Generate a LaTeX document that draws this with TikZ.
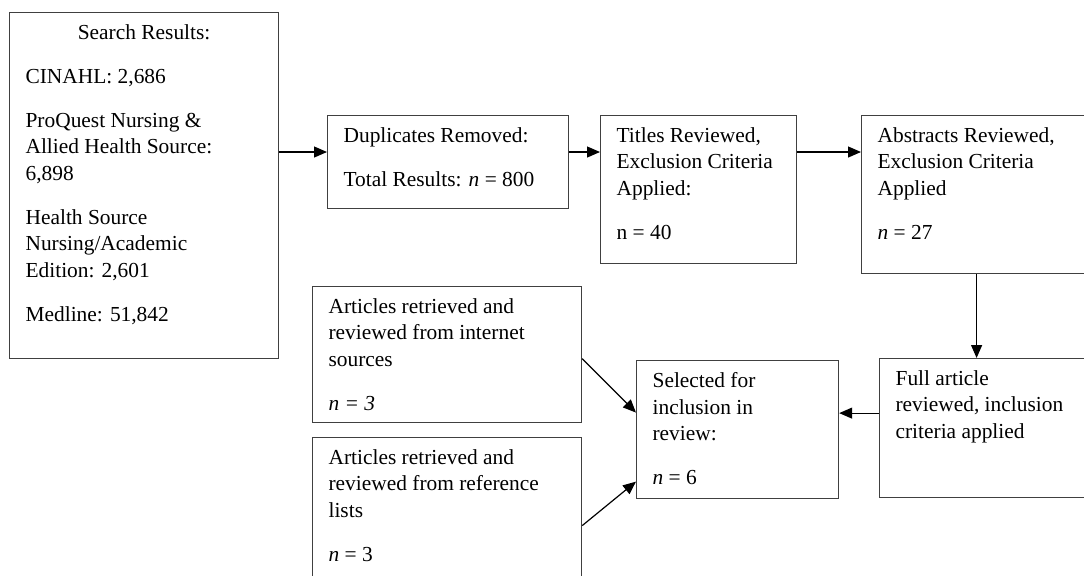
\documentclass[tikz,border=0pt]{standalone}
\usepackage{fontspec}
\setmainfont{Liberation Serif}
\usepackage{tikz}
\usetikzlibrary{arrows.meta, calc}

\begin{document}
\begin{tikzpicture}[x=0.5pt, y=-0.5pt,
    stage/.style={draw=black!75, line width=0.6pt, anchor=north west, inner xsep=8pt,
                  inner ysep=6pt, font=\fontsize{10.7}{13.25}\selectfont},
    arr/.style={line width=0.6pt, -{Triangle[length=6.5pt, width=5.5pt]}}]
  \useasboundingbox (0, 0) rectangle (1084, 575);
  \clip (0, 0) rectangle (1084, 575);

  \node[stage] (search) at (9, 12) {\parbox[c][161pt][t]{118.5pt}{\raggedright
      \makebox[\linewidth]{Search Results:}\\[8.75pt]
      CINAHL: 2,686\\[8.75pt]
      ProQuest Nursing \&\\ Allied Health Source:\\ 6,898\\[8.75pt]
      Health Source\\ Nursing/Academic\\ Edition: 2,601\\[8.75pt]
      Medline: 51,842}};
  \node[stage] (dup) at (327, 115) {\parbox[c][34.5pt][t]{104.5pt}{\raggedright
      Duplicates Removed:\\[8.75pt]
      Total Results: \textit{n} = 800}};
  \node[stage] (titles) at (600, 115) {\parbox[c][62pt][t]{82pt}{\raggedright
      Titles Reviewed,\\ Exclusion Criteria\\ Applied:\\[8.75pt]
      n = 40}};
  \node[stage] (abstracts) at (861, 115) {\parbox[c][67pt][t]{99pt}{\raggedright
      Abstracts Reviewed,\\ Exclusion Criteria\\ Applied\\[8.75pt]
      \textit{n} = 27}};
  \node[stage] (full) at (879, 358) {\parbox[c][57.5pt][t]{89pt}{\raggedright
      Full article\\ reviewed, inclusion\\ criteria applied}};
  \node[stage] (selected) at (636, 360) {\parbox[c][57pt][t]{85pt}{\raggedright
      Selected for\\ inclusion in\\ review:\\[8.75pt]
      \textit{n} = 6}};
  \node[stage] (internet) at (312, 286) {\parbox[c][56pt][t]{118.5pt}{\raggedright
      Articles retrieved and\\ reviewed from internet\\ sources\\[8.75pt]
      \textit{n = 3}}};
  \node[stage] (reflists) at (312, 437) {\parbox[c][63pt][t]{118.5pt}{\raggedright
      Articles retrieved and\\ reviewed from reference\\ lists\\[8.75pt]
      \textit{n} = 3}};

  % top row of arrows
  \coordinate (row) at (0, 152);
  \draw[arr] (search.east |- row) -- (dup.west |- row);
  \draw[arr] (dup.east |- row) -- (titles.west |- row);
  \draw[arr] (titles.east |- row) -- (abstracts.west |- row);

  \draw[arr] (abstracts.south) -- (abstracts.south |- full.north);
  \draw[arr] ([yshift=7.5pt]full.west) -- ([yshift=7.5pt]full.west -| selected.east);
  \draw[arr] ([yshift=-2pt]internet.east) -- ([yshift=8.5pt]selected.west);
  \draw[arr] ([yshift=-6.5pt]reflists.east) -- ([yshift=-26pt]selected.west);
\end{tikzpicture}
\end{document}
